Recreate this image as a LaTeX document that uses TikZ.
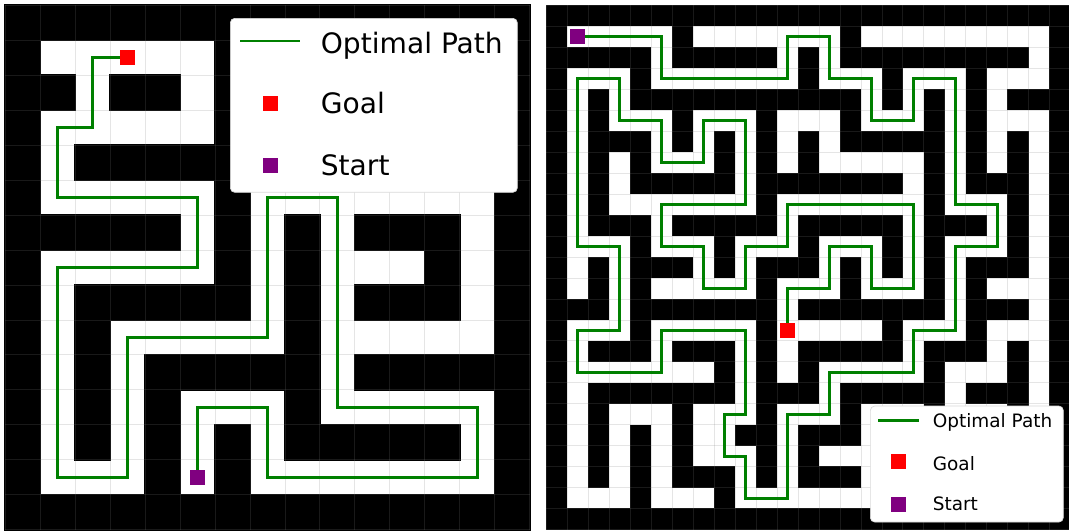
\documentclass[tikz,border=0pt]{standalone}
\usepackage{fontspec}
\setmainfont{DejaVu Sans}
\usetikzlibrary{positioning}
\definecolor{pathgreen}{RGB}{0,128,0}
\definecolor{goalred}{RGB}{255,0,0}
\definecolor{startpurple}{RGB}{128,0,128}

\begin{document}
\begin{tikzpicture}[
    x=0.02cm, y=-0.02cm,
    wall/.style={fill=black},
    gridline/.style={draw=gray, draw opacity=0.2, line width=0.5pt},
    route/.style={draw=pathgreen, line width=1.6pt},
    goalmark/.style={rectangle, fill=goalred, minimum size=0.3cm, inner sep=0pt},
    startmark/.style={rectangle, fill=startpurple, minimum size=0.3cm, inner sep=0pt},
    legendbox/.style={draw=black!15, fill=white, rounded corners=2.5pt, line width=0.4pt, inner sep=0pt},
    legendtext/.style={anchor=base west, inner sep=0pt}
]
\useasboundingbox[fill=white] (0,0) rectangle (1069,531);

% left maze, 15 x 15
\begin{scope}[shift={(5,5)}, x=0.7cm, y=-0.7cm]
\foreach \cells [count=\row from 0] in {
    {1,1,1,1,1,1,1,1,1,1,1,1,1,1,1},
    {1,0,0,0,0,0,1,0,0,0,0,0,0,0,1},
    {1,1,0,1,1,0,1,0,1,1,1,1,1,0,1},
    {1,0,0,0,0,0,1,0,0,0,1,0,0,0,1},
    {1,0,1,1,1,1,1,1,1,0,1,0,1,1,1},
    {1,0,0,0,0,0,1,0,0,0,0,0,0,0,1},
    {1,1,1,1,1,0,1,0,1,0,1,1,1,0,1},
    {1,0,0,0,0,0,1,0,1,0,0,0,1,0,1},
    {1,0,1,1,1,1,1,0,1,0,1,1,1,0,1},
    {1,0,1,0,0,0,0,0,1,0,0,0,0,0,1},
    {1,0,1,0,1,1,1,1,1,0,1,1,1,1,1},
    {1,0,1,0,1,0,0,0,1,0,0,0,0,0,1},
    {1,0,1,0,1,0,1,0,1,1,1,1,1,0,1},
    {1,0,0,0,1,0,1,0,0,0,0,0,0,0,1},
    {1,1,1,1,1,1,1,1,1,1,1,1,1,1,1}}{
  \foreach \v [count=\col from 0] in \cells {
    \ifnum\v=1 \fill[wall] (\col-0.02,\row-0.02) rectangle ++(1.04,1.04); \fi
  }
}
\foreach \i in {0,...,15} {
  \draw[gridline] (\i,0) -- (\i,15);
  \draw[gridline] (0,\i) -- (15,\i);
}
\coordinate (goalA) at (3.5,1.5);
\coordinate (startA) at (5.5,13.5);
\draw[route] (goalA) -- (2.5,1.5) -- (2.5,3.5) -- (1.5,3.5) -- (1.5,5.5) -- (5.5,5.5)
  -- (5.5,7.5) -- (1.5,7.5) -- (1.5,13.5) -- (3.5,13.5) -- (3.5,9.5) -- (7.5,9.5)
  -- (7.5,5.5) -- (9.5,5.5) -- (9.5,11.5) -- (13.5,11.5) -- (13.5,13.5) -- (7.5,13.5)
  -- (7.5,11.5) -- (5.5,11.5) -- (startA);
\node[goalmark] (goalboxA) at (goalA) {};
\node[startmark] (startboxA) at (startA) {};
\end{scope}

% right maze, 25 x 25
\begin{scope}[shift={(546,5)}, x=0.42cm, y=-0.42cm]
\foreach \cells [count=\row from 0] in {
    {1,1,1,1,1,1,1,1,1,1,1,1,1,1,1,1,1,1,1,1,1,1,1,1,1},
    {1,0,0,0,0,0,1,0,0,0,0,0,0,0,1,0,0,0,0,0,0,0,0,0,1},
    {1,1,1,1,1,0,1,1,1,1,1,0,1,0,1,1,1,1,1,1,1,1,1,0,1},
    {1,0,0,0,1,0,0,0,0,0,0,0,1,0,0,0,1,0,0,0,1,0,0,0,1},
    {1,0,1,0,1,1,1,1,1,1,1,1,1,1,1,0,1,0,1,0,1,0,1,1,1},
    {1,0,1,0,0,0,1,0,0,0,1,0,0,0,1,0,0,0,1,0,1,0,0,0,1},
    {1,0,1,1,1,0,1,0,1,0,1,0,1,0,1,1,1,1,1,0,1,0,1,0,1},
    {1,0,1,0,1,0,0,0,1,0,1,0,1,0,0,0,0,0,1,0,1,0,1,0,1},
    {1,0,1,0,1,1,1,1,1,0,1,1,1,1,1,1,1,0,1,0,1,1,1,0,1},
    {1,0,1,0,0,0,0,0,0,0,1,0,0,0,0,0,0,0,1,0,0,0,1,0,1},
    {1,0,1,1,1,0,1,1,1,1,1,0,1,1,1,1,1,0,1,1,1,0,1,0,1},
    {1,0,0,0,1,0,0,0,1,0,0,0,1,0,0,0,1,0,1,0,0,0,1,0,1},
    {1,0,1,0,1,1,1,0,1,0,1,1,1,0,1,0,1,0,1,0,1,1,1,0,1},
    {1,0,1,0,1,0,0,0,0,0,1,0,0,0,1,0,0,0,1,0,1,0,0,0,1},
    {1,1,1,0,1,1,1,1,1,1,1,0,1,1,1,1,1,1,1,0,1,1,1,0,1},
    {1,0,0,0,1,0,0,0,0,0,1,0,0,0,0,0,1,0,0,0,1,0,0,0,1},
    {1,0,1,1,1,0,1,1,1,0,1,0,1,1,1,1,1,0,1,1,1,0,1,0,1},
    {1,0,0,0,0,0,0,0,1,0,1,0,1,0,0,0,0,0,1,0,0,0,1,0,1},
    {1,0,1,1,1,1,1,1,1,0,1,1,1,0,1,1,1,1,1,0,1,1,1,0,1},
    {1,0,1,0,0,0,1,0,0,0,1,0,0,0,1,0,0,0,1,0,0,0,1,0,1},
    {1,0,1,0,1,0,1,0,0,1,1,0,1,1,1,0,1,1,1,0,1,0,1,0,1},
    {1,0,1,0,1,0,1,0,0,0,1,0,1,0,0,0,1,0,0,0,1,0,0,0,1},
    {1,0,1,0,1,0,1,1,1,0,1,0,1,1,1,0,1,0,1,1,1,0,1,0,1},
    {1,0,0,0,1,0,0,0,1,0,0,0,0,0,0,0,0,0,1,0,0,0,1,0,1},
    {1,1,1,1,1,1,1,1,1,1,1,1,1,1,1,1,1,1,1,1,1,1,1,1,1}}{
  \foreach \v [count=\col from 0] in \cells {
    \ifnum\v=1 \fill[wall] (\col-0.02,\row-0.02) rectangle ++(1.04,1.04); \fi
  }
}
\foreach \i in {0,...,25} {
  \draw[gridline] (\i,0) -- (\i,25);
  \draw[gridline] (0,\i) -- (25,\i);
}
\coordinate (startB) at (1.5,1.5);
\coordinate (goalB) at (11.5,15.5);
\draw[route] (startB) -- (5.5,1.5) -- (5.5,3.5) -- (11.5,3.5) -- (11.5,1.5) -- (13.5,1.5)
  -- (13.5,3.5) -- (15.5,3.5) -- (15.5,5.5) -- (17.5,5.5) -- (17.5,3.5) -- (19.5,3.5)
  -- (19.5,9.5) -- (21.5,9.5) -- (21.5,11.5) -- (19.5,11.5) -- (19.5,15.5) -- (17.5,15.5)
  -- (17.5,17.5) -- (13.5,17.5) -- (13.5,19.5) -- (11.5,19.5) -- (11.5,23.5) -- (9.5,23.5)
  -- (9.5,21.5) -- (8.5,21.5) -- (8.5,19.5) -- (9.5,19.5) -- (9.5,15.5) -- (5.5,15.5)
  -- (5.5,17.5) -- (1.5,17.5) -- (1.5,15.5) -- (3.5,15.5) -- (3.5,11.5) -- (1.5,11.5)
  -- (1.5,3.5) -- (3.5,3.5) -- (3.5,5.5) -- (5.5,5.5) -- (5.5,7.5) -- (7.5,7.5)
  -- (7.5,5.5) -- (9.5,5.5) -- (9.5,9.5) -- (5.5,9.5) -- (5.5,11.5) -- (7.5,11.5)
  -- (7.5,13.5) -- (9.5,13.5) -- (9.5,11.5) -- (11.5,11.5) -- (11.5,9.5) -- (17.5,9.5)
  -- (17.5,13.5) -- (15.5,13.5) -- (15.5,11.5) -- (13.5,11.5) -- (13.5,13.5) -- (11.5,13.5)
  -- (goalB);
\node[goalmark] (goalboxB) at (goalB) {};
\node[startmark] (startboxB) at (startB) {};
\end{scope}

% legends
\node[legendbox, anchor=north west, minimum width=5.74cm, minimum height=3.48cm] (legA) at (230,18) {};
\coordinate (keyLineA) at (240,41);
\draw[route] (keyLineA) -- ++(60,0);
\node[goalmark] (keyGoalA) at (270,103) {};
\node[startmark] (keyStartA) at (270,165) {};
\node[legendtext, font=\fontsize{16}{19}\selectfont] (txtPathA) at (320.5,53.3) {Optimal Path};
\node[legendtext, font=\fontsize{16}{19}\selectfont] (txtGoalA) at (320.5,113.3) {Goal};
\node[legendtext, font=\fontsize{16}{19}\selectfont] (txtStartA) at (320.5,175.7) {Start};

\node[legendbox, anchor=north west, minimum width=3.86cm, minimum height=2.32cm] (legB) at (870,405.7) {};
\coordinate (keyLineB) at (878,420.5);
\draw[route] (keyLineB) -- ++(41,0);
\node[goalmark] (keyGoalB) at (898.5,461.5) {};
\node[startmark] (keyStartB) at (898.5,504.5) {};
\node[legendtext, font=\fontsize{10.5}{12.5}\selectfont] (txtPathB) at (932.5,427.3) {Optimal Path};
\node[legendtext, font=\fontsize{10.5}{12.5}\selectfont] (txtGoalB) at (932.5,470) {Goal};
\node[legendtext, font=\fontsize{10.5}{12.5}\selectfont] (txtStartB) at (932.5,510.7) {Start};
\end{tikzpicture}
\end{document}
